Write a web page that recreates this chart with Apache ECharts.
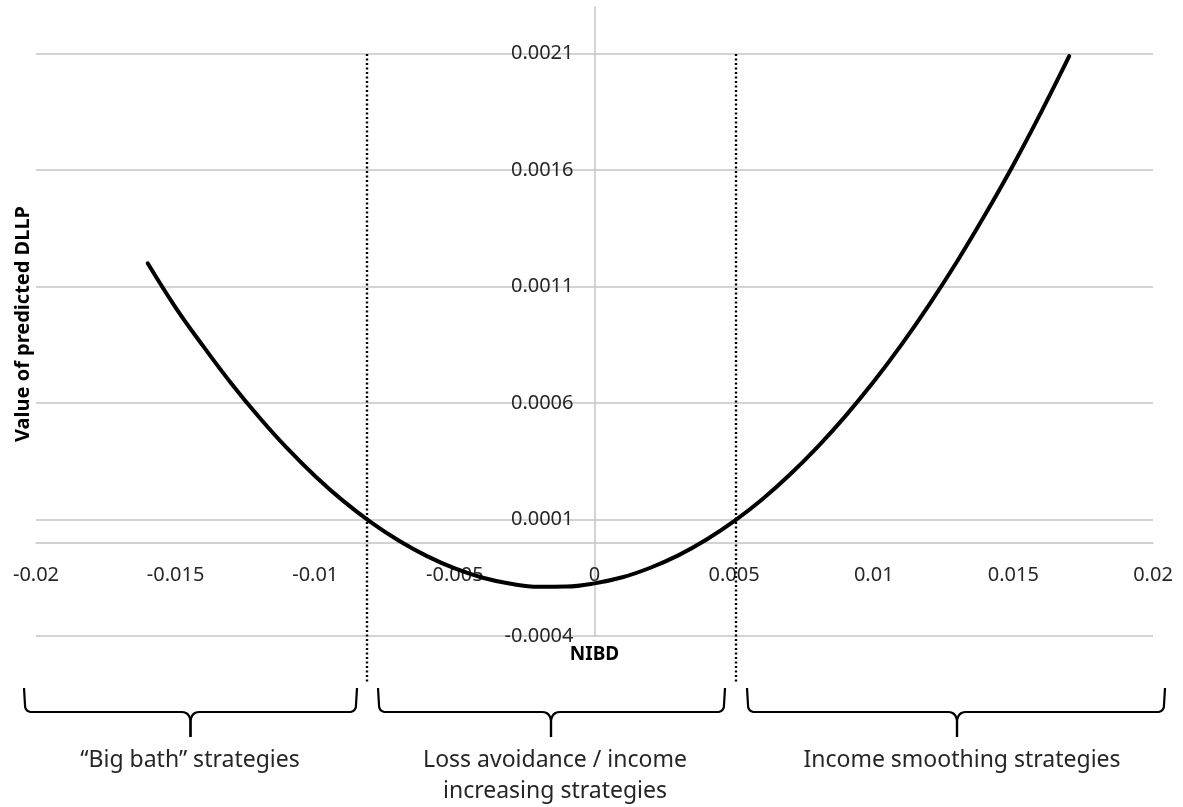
<!DOCTYPE html>
<html>
<head>
<meta charset="utf-8">
<script src="https://cdn.jsdelivr.net/npm/echarts@6/dist/echarts.min.js"></script>
<style>
  html, body { margin: 0; padding: 0; background: #ffffff; }
  #chart { width: 1183px; height: 807px; }
</style>
</head>
<body>
<div id="chart"></div>
<script>
// ---- data ----
const nibd = [-0.016, -0.015, -0.014, -0.013, -0.012, -0.011, -0.010, -0.009, -0.008, -0.007,
              -0.006, -0.005, -0.004, -0.003, -0.002, -0.001, 0.000, 0.001, 0.002, 0.003,
              0.004, 0.005, 0.006, 0.007, 0.008, 0.009, 0.010, 0.011, 0.012, 0.013,
              0.014, 0.015, 0.016, 0.017];
const dllp = [0.001200, 0.001010, 0.000842, 0.000683, 0.000538, 0.000405, 0.000286, 0.000180, 0.000088, 0.000009,
              -0.000057, -0.000110, -0.000150, -0.000176, -0.000189, -0.000188, -0.000174, -0.000148, -0.000107, -0.000054,
              0.000013, 0.000093, 0.000186, 0.000293, 0.000413, 0.000546, 0.000692, 0.000852, 0.001025, 0.001211,
              0.001411, 0.001623, 0.001850, 0.002089];
const boundaryX = [-0.00815, 0.00507];     // dotted threshold lines (NIBD values)
const boundaryTop = 0.0021;                // dotted lines start at this DLLP level
const strategyLabels = ['\u201CBig bath\u201D strategies', 'Loss avoidance / income\nincreasing strategies', 'Income smoothing strategies'];
const xAxisTitle = 'NIBD';
const yAxisTitle = 'Value of predicted DLLP';

// ---- layout (pixels) ----
const FONT = '"Noto Sans", sans-serif';
const braceSpans = [[24, 357, 190.5], [378, 725, 551], [747, 1165, 957]];
const braceY = { top: 688, line: 712, tip: 737 };
const labelCenters = [190, 555, 962];

const chart = echarts.init(document.getElementById('chart'), null, { renderer: 'canvas' });

const option = {
  animation: false,
  backgroundColor: '#ffffff',
  grid: { left: 36, right: 30, top: 7, bottom: 171, containLabel: false, outerBoundsMode: 'none' },
  xAxis: {
    type: 'value',
    min: -0.02, max: 0.02, interval: 0.005,
    name: xAxisTitle, nameLocation: 'middle', nameGap: 102,
    nameTextStyle: { fontFamily: FONT, fontSize: 19, fontWeight: 'bold', color: '#000' },
    axisLine: { onZero: false, lineStyle: { color: '#c4c4c4', width: 1.5 } },
    axisTick: { show: false },
    splitLine: { show: false },
    axisLabel: {
      margin: 22, fontFamily: FONT, fontSize: 20, color: '#262626',
      formatter: v => String(+v.toFixed(3))
    }
  },
  yAxis: {
    type: 'value',
    min: -0.0004, max: 0.0023, interval: 0.0005,
    axisLine: { onZero: false, lineStyle: { color: '#c4c4c4', width: 1.5 } },
    axisTick: { show: false },
    splitLine: { show: true, showMaxLine: false, lineStyle: { color: '#c4c4c4', width: 1.5 } },
    axisLabel: {
      margin: 21, fontFamily: FONT, fontSize: 20, color: '#262626', showMaxLabel: false,
      formatter: v => String(+v.toFixed(4))
    }
  },
  series: [{
    type: 'line',
    data: nibd.map((x, i) => [x, dllp[i]]),
    smooth: 0.4,
    symbol: 'none',
    lineStyle: { color: '#000000', width: 4, cap: 'round' },
    z: 5
  }]
};
chart.setOption(option);

// move both axes (line + labels) to cross at the origin, using the library's own scales
const corner = chart.convertToPixel({ gridIndex: 0 }, [-0.02, -0.0004]);
const origin = chart.convertToPixel({ gridIndex: 0 }, [0, 0]);
chart.setOption({
  xAxis: { offset: -(corner[1] - origin[1]) },
  yAxis: { offset: -(origin[0] - corner[0]) }
});

function quad(p0, p1, p2, n) {
  const pts = [];
  for (let i = 1; i <= n; i++) {
    const t = i / n, u = 1 - t;
    pts.push([u * u * p0[0] + 2 * u * t * p1[0] + t * t * p2[0],
              u * u * p0[1] + 2 * u * t * p1[1] + t * t * p2[1]]);
  }
  return pts;
}
function braceHalves(x1, x2, xm) {
  const t = braceY.top, l = braceY.line, p = braceY.tip;
  let left = [[x1, t], [x1 + 1, l - 7]];
  left = left.concat(quad([x1 + 1, l - 7], [x1 + 1, l], [x1 + 8, l], 6));
  left.push([xm - 9, l]);
  left = left.concat(quad([xm - 9, l], [xm - 1, l], [xm, l + 9], 6));
  left.push([xm, p]);
  let right = [[xm, p], [xm, l + 9]];
  right = right.concat(quad([xm, l + 9], [xm + 1, l], [xm + 9, l], 6));
  right.push([x2 - 8, l]);
  right = right.concat(quad([x2 - 8, l], [x2 - 1, l], [x2 - 1, l - 7], 6));
  right.push([x2, t]);
  return [left, right];
}

const graphics = [];
boundaryX.forEach(bx => {
  const top = chart.convertToPixel({ gridIndex: 0 }, [bx, boundaryTop]);
  const px = Math.round(top[0]);
  graphics.push({
    type: 'line', silent: true, z: 10,
    shape: { x1: px, y1: Math.round(top[1]), x2: px, y2: 682 },
    style: { stroke: '#000', lineWidth: 2.4, lineDash: [2, 2.5], lineCap: 'butt' }
  });
});
braceSpans.forEach(s => {
  braceHalves(s[0], s[1], s[2]).forEach(pts => {
    graphics.push({
      type: 'polyline', silent: true, z: 10,
      shape: { points: pts },
      style: { stroke: '#000', fill: null, lineWidth: 2.2, lineJoin: 'round' }
    });
  });
});
strategyLabels.forEach((txt, i) => {
  graphics.push({
    type: 'text', silent: true, z: 10,
    x: labelCenters[i], y: 745,
    style: {
      text: txt, fill: '#262626', font: '23px ' + FONT,
      textAlign: 'center', textVerticalAlign: 'top', lineHeight: 31
    }
  });
});
graphics.push({
  type: 'text', silent: true, z: 10,
  x: 23, y: 324, rotation: Math.PI / 2,
  style: {
    text: yAxisTitle, fill: '#000', font: 'bold 20px ' + FONT,
    textAlign: 'center', textVerticalAlign: 'middle'
  }
});
chart.setOption({ graphic: graphics });
</script>
</body>
</html>
